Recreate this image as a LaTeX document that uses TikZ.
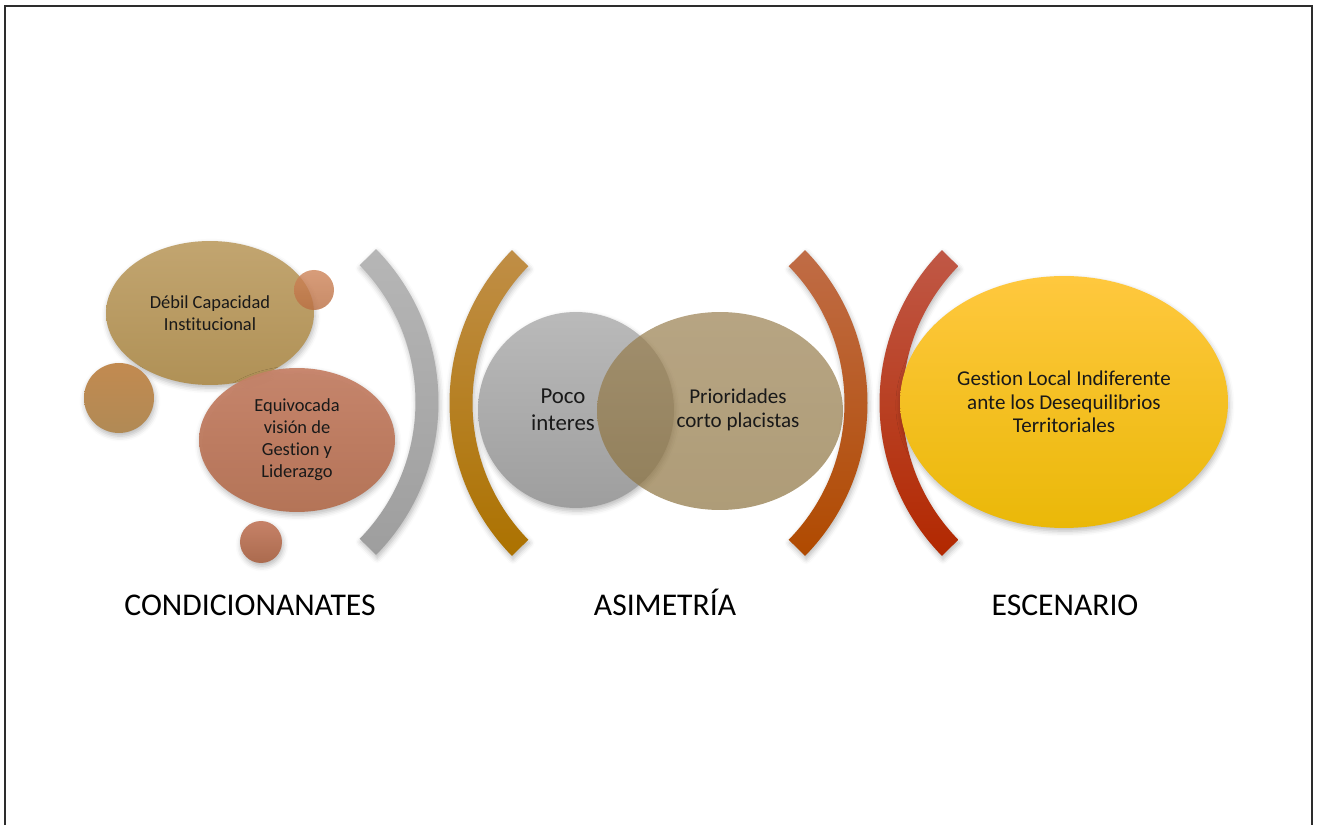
\documentclass[tikz,border=0pt]{standalone}
\usepackage{fontspec}
\setmainfont{Carlito}[Ligatures=CommonOff]
\usetikzlibrary{shapes.geometric,calc,shadows.blur}
\definecolor{acframe}{RGB}{45,45,45}
\definecolor{acgrayA}{RGB}{182,182,182}
\definecolor{acgrayB}{RGB}{158,158,158}
\definecolor{acochreA}{RGB}{192,142,70}
\definecolor{acochreB}{RGB}{172,114,0}
\definecolor{acrustA}{RGB}{192,108,70}
\definecolor{acrustB}{RGB}{176,74,0}
\definecolor{acredA}{RGB}{192,88,70}
\definecolor{acredB}{RGB}{178,40,0}
\definecolor{actanA}{RGB}{194,165,112}
\definecolor{actanB}{RGB}{176,145,86}
\definecolor{acclayA}{RGB}{198,130,104}
\definecolor{acclayB}{RGB}{180,112,82}
\definecolor{acdotA}{RGB}{206,132,88}
\definecolor{acdotB}{RGB}{186,110,66}
\definecolor{acsandA}{RGB}{152,126,78}
\definecolor{acsandB}{RGB}{140,114,62}
\definecolor{acgoldA}{RGB}{255,200,62}
\definecolor{acgoldB}{RGB}{234,184,8}
\tikzset{
  ac/.style={font=\fontsize{10.5}{12.5}\selectfont, text=black!90},
  acshadow/.style={blur shadow={shadow xshift=0.6pt, shadow yshift=-1.8pt,
    shadow opacity=28, shadow blur radius=3pt}},
  acblob/.style 2 args={
    ac, ellipse, draw=none, top color=#1, bottom color=#2,
    inner sep=0pt, align=center
  },
  actext/.style={ac, align=center, inner sep=0pt},
  actitle/.style={font=\fontsize{18}{22}\selectfont, text=black, anchor=base},
}
% parentesis curvo: centro, angulo inicial, angulo final, color arriba, color abajo
\newcommand{\acbracket}[5]{%
  \shade[top color=#4, bottom color=#5, acshadow]
    ($#1+(#2:218.5)$) arc[start angle=#2, end angle=#3, radius=218.5]
    -- ($#1+(#3:195.5)$) arc[start angle=#3, end angle=#2, radius=195.5] -- cycle;}

\begin{document}
\begin{tikzpicture}[x=0.02cm, y=0.02cm]
    \useasboundingbox (0,0) rectangle (1317,825);
    % Marco
    \draw[acframe, line width=1.1pt] (5,0) -- (5,819) -- (1312,819) -- (1312,0);

    % Parentesis
    \acbracket{(220,423)}{-44.4}{44.4}{acgrayA}{acgrayB}
    \acbracket{(668,422)}{135.6}{224.4}{acochreA}{acochreB}
    \acbracket{(649,422)}{-44.4}{44.4}{acrustA}{acrustB}
    \acbracket{(1098,422)}{135.6}{224.4}{acredA}{acredB}

    % Condicionantes
    \node[acblob={actanA}{actanB}, acshadow, minimum width=4.16cm, minimum height=2.88cm]
      (debil) at (210,512) {D\'ebil Capacidad\\Institucional};
    \node[acblob={acdotA}{acdotB}, fill opacity=0.8, minimum size=0.8cm]
      (dottop) at (314,535) {};
    \node[acblob={acochreA!70!acclayA}{actanB!80!acclayB}, acshadow, minimum size=1.4cm]
      (dotleft) at (119,427) {};
    \node[acblob={acclayA}{acclayB}, acshadow, fill opacity=0.95, text opacity=1,
      minimum width=3.92cm, minimum height=2.88cm]
      (equivocada) at (297,385) {Equivocada\\visi\'on de\\Gestion y\\Liderazgo};
    \node[acblob={acclayA}{acclayB!95!black}, acshadow, minimum size=0.84cm]
      (dotbottom) at (261,283) {};

    % Asimetria
    \node[acblob={acgrayA!95!white}{acgrayB}, acshadow, minimum size=3.92cm]
      (poco) at (576,415) {};
    \node[acblob={acsandA}{acsandB}, fill opacity=0.7, minimum width=4.92cm, minimum height=3.96cm]
      (prioridades) at (720,414) {};
    \node[actext, font=\fontsize{13}{15.5}\selectfont] (pocotxt) at (563,415) {Poco\\interes};
    \node[actext, font=\fontsize{12}{13.5}\selectfont] (prioridadestxt) at (738,415)
      {Prioridades\\corto placistas};

    % Escenario
    \node[acblob={acgoldA}{acgoldB}, acshadow, font=\fontsize{12}{13.3}\selectfont,
      minimum width=6.56cm, minimum height=5.04cm]
      (gestion) at (1064,423) {Gestion Local Indiferente\\ante los Desequilibrios\\Territoriales};

    % Titulos
    \node[actitle] (tcond) at (250,210) {CONDICIONANATES};
    \node[actitle] (tasim) at (665,210) {ASIMETR\'IA};
    \node[actitle] (tesc) at (1065,210) {ESCENARIO};
\end{tikzpicture}
\end{document}
